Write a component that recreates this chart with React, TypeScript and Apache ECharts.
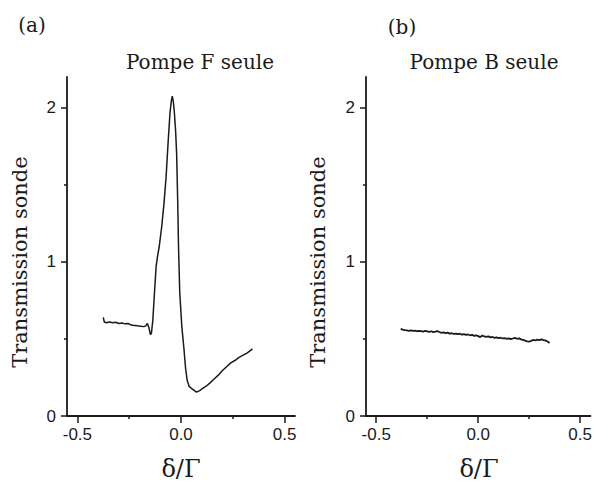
import React, { useEffect, useRef } from "react";
import * as echarts from "echarts";

// Panel (a): Pompe F seule
const leftDelta = [
  -0.375, -0.370, -0.360, -0.345, -0.330, -0.315, -0.300, -0.285, -0.270, -0.255,
  -0.240, -0.225, -0.210, -0.195, -0.180, -0.170, -0.162, -0.155, -0.148, -0.143,
  -0.136, -0.128, -0.120, -0.114, -0.105, -0.093, -0.082, -0.072, -0.062, -0.053,
  -0.046, -0.042, -0.037, -0.032, -0.026, -0.021, -0.016, -0.012, -0.006, 0.004,
  0.014, 0.022, 0.030, 0.040, 0.055, 0.075, 0.090, 0.105, 0.123, 0.140,
  0.160, 0.180, 0.200, 0.220, 0.240, 0.260, 0.280, 0.300, 0.320, 0.345,
];
const leftTransmission = [
  0.64, 0.61, 0.605, 0.61, 0.605, 0.608, 0.60, 0.603, 0.598, 0.60,
  0.59, 0.588, 0.585, 0.583, 0.58, 0.585, 0.60, 0.575, 0.53, 0.535,
  0.62, 0.80, 0.97, 1.03, 1.10, 1.23, 1.38, 1.55, 1.78, 1.97,
  2.05, 2.075, 2.04, 1.97, 1.85, 1.70, 1.40, 1.10, 0.80, 0.58,
  0.44, 0.31, 0.23, 0.19, 0.175, 0.155, 0.165, 0.18, 0.195, 0.215,
  0.24, 0.265, 0.295, 0.32, 0.345, 0.36, 0.38, 0.395, 0.41, 0.435,
];

// Panel (b): Pompe B seule
const rightDelta = [
  -0.380, -0.370, -0.360, -0.350, -0.340, -0.330, -0.320, -0.310, -0.300, -0.290,
  -0.280, -0.270, -0.260, -0.250, -0.240, -0.230, -0.220, -0.210, -0.200, -0.190,
  -0.180, -0.170, -0.160, -0.150, -0.140, -0.130, -0.120, -0.110, -0.100, -0.090,
  -0.080, -0.070, -0.060, -0.050, -0.040, -0.030, -0.020, -0.010, 0.000, 0.010,
  0.020, 0.030, 0.040, 0.050, 0.060, 0.070, 0.080, 0.090, 0.100, 0.110,
  0.120, 0.130, 0.140, 0.150, 0.160, 0.170, 0.180, 0.190, 0.200, 0.210,
  0.220, 0.230, 0.240, 0.250, 0.260, 0.270, 0.280, 0.290, 0.300, 0.310,
  0.320, 0.330, 0.340, 0.350,
];
const rightTransmission = [
  0.565, 0.560, 0.557, 0.555, 0.553, 0.556, 0.552, 0.554, 0.550, 0.553,
  0.551, 0.548, 0.552, 0.549, 0.546, 0.550, 0.544, 0.547, 0.551, 0.545,
  0.540, 0.543, 0.538, 0.541, 0.535, 0.537, 0.533, 0.535, 0.531, 0.534,
  0.528, 0.531, 0.526, 0.529, 0.524, 0.527, 0.520, 0.523, 0.518, 0.512,
  0.522, 0.516, 0.513, 0.517, 0.510, 0.513, 0.507, 0.510, 0.505, 0.508,
  0.503, 0.506, 0.500, 0.504, 0.499, 0.503, 0.507, 0.501, 0.504, 0.497,
  0.494, 0.489, 0.485, 0.483, 0.488, 0.494, 0.490, 0.496, 0.493, 0.497,
  0.492, 0.490, 0.483, 0.474,
];

const xMajorTicks = [-0.5, 0, 0.5];
const xMinorTicks = [-0.25, 0.25];
const yMajorTicks = [0, 1, 2];
const yMinorTicks = [0.5, 1.5];
const panelLabels = ["(a)", "(b)"];
const panelTitles = ["Pompe F seule", "Pompe B seule"];
const yAxisTitle = "Transmission sonde";
const xAxisTitle = "δ/Γ";

const INK = "#1a1a1a";
const SERIF = "DejaVu Serif";
const SANS = "Liberation Sans";

function zip(xs: number[], ys: number[]) {
  return xs.map((x, i) => [x, ys[i]]);
}

export default function App() {
  const ref = useRef<HTMLDivElement>(null);
  useEffect(() => {
    if (!ref.current) return;
    const chart = echarts.init(ref.current, null, { renderer: "svg" });

    const grids = [
      { left: 67, top: 77, width: 228, height: 339 },
      { left: 366, top: 77, width: 226, height: 339 },
    ];
    const xAxes: any[] = [];
    const yAxes: any[] = [];
    grids.forEach((_, gi) => {
      xAxes.push({
        type: "value",
        gridIndex: gi,
        position: "bottom",
        min: -0.55,
        max: 0.55,
        splitLine: { show: false },
        axisLine: { show: true, onZero: false, lineStyle: { color: INK, width: 1.8 } },
        axisTick: { show: true, inside: false, length: 7, customValues: xMajorTicks, lineStyle: { color: INK, width: 1.5 } },
        axisLabel: {
          show: true,
          customValues: xMajorTicks,
          formatter: (v: number) => v.toFixed(1),
          fontFamily: SANS,
          fontSize: 17,
          color: INK,
          margin: 10,
        },
      });
      xAxes.push({
        type: "value",
        gridIndex: gi,
        position: "bottom",
        min: -0.55,
        max: 0.55,
        splitLine: { show: false },
        axisLine: { show: false, onZero: false },
        axisTick: { show: true, inside: false, length: 3, customValues: xMinorTicks, lineStyle: { color: INK, width: 1.5 } },
        axisLabel: { show: false },
      });
      yAxes.push({
        type: "value",
        gridIndex: gi,
        position: "left",
        min: 0,
        max: 2.2,
        splitLine: { show: false },
        axisLine: { show: true, onZero: false, lineStyle: { color: INK, width: 1.8 } },
        axisTick: { show: true, inside: false, length: 6, customValues: yMajorTicks, lineStyle: { color: INK, width: 1.5 } },
        axisLabel: {
          show: true,
          customValues: yMajorTicks,
          formatter: (v: number) => String(v),
          fontFamily: SANS,
          fontSize: 17,
          color: INK,
          margin: 11,
        },
      });
      yAxes.push({
        type: "value",
        gridIndex: gi,
        position: "left",
        min: 0,
        max: 2.2,
        splitLine: { show: false },
        axisLine: { show: false, onZero: false },
        axisTick: { show: true, inside: false, length: 3, customValues: yMinorTicks, lineStyle: { color: INK, width: 1.5 } },
        axisLabel: { show: false },
      });
    });

    const serif = (text: string, x: number, y: number, size: number, extra: any = {}) => ({
      type: "text",
      x,
      y,
      ...extra,
      style: {
        text,
        fontFamily: SERIF,
        fontSize: size,
        fill: INK,
        align: "center",
        verticalAlign: "middle",
      },
    });

    chart.setOption({
      animation: false,
      backgroundColor: "#ffffff",
      grid: grids,
      xAxis: xAxes,
      yAxis: yAxes,
      series: [
        {
          type: "line",
          xAxisIndex: 0,
          yAxisIndex: 0,
          data: zip(leftDelta, leftTransmission),
          showSymbol: false,
          symbol: "none",
          lineStyle: { color: INK, width: 1.5 },
        },
        {
          type: "line",
          xAxisIndex: 2,
          yAxisIndex: 2,
          data: zip(rightDelta, rightTransmission),
          showSymbol: false,
          symbol: "none",
          lineStyle: { color: INK, width: 1.8 },
        },
      ],
      graphic: [
        serif(panelLabels[0], 32, 25, 20),
        serif(panelLabels[1], 402, 27, 20),
        serif(panelTitles[0], 200, 62, 20),
        serif(panelTitles[1], 484, 62, 20),
        serif(yAxisTitle, 20, 262, 21, { rotation: Math.PI / 2 }),
        serif(yAxisTitle, 318, 262, 21, { rotation: Math.PI / 2 }),
        serif(xAxisTitle, 181, 469, 24),
        serif(xAxisTitle, 479, 469, 24),
      ],
    });
    return () => chart.dispose();
  }, []);
  return (
    <div
      ref={ref}
      style={{ position: "fixed", left: 0, top: 0, width: 595, height: 484 }}
    />
  );
}
